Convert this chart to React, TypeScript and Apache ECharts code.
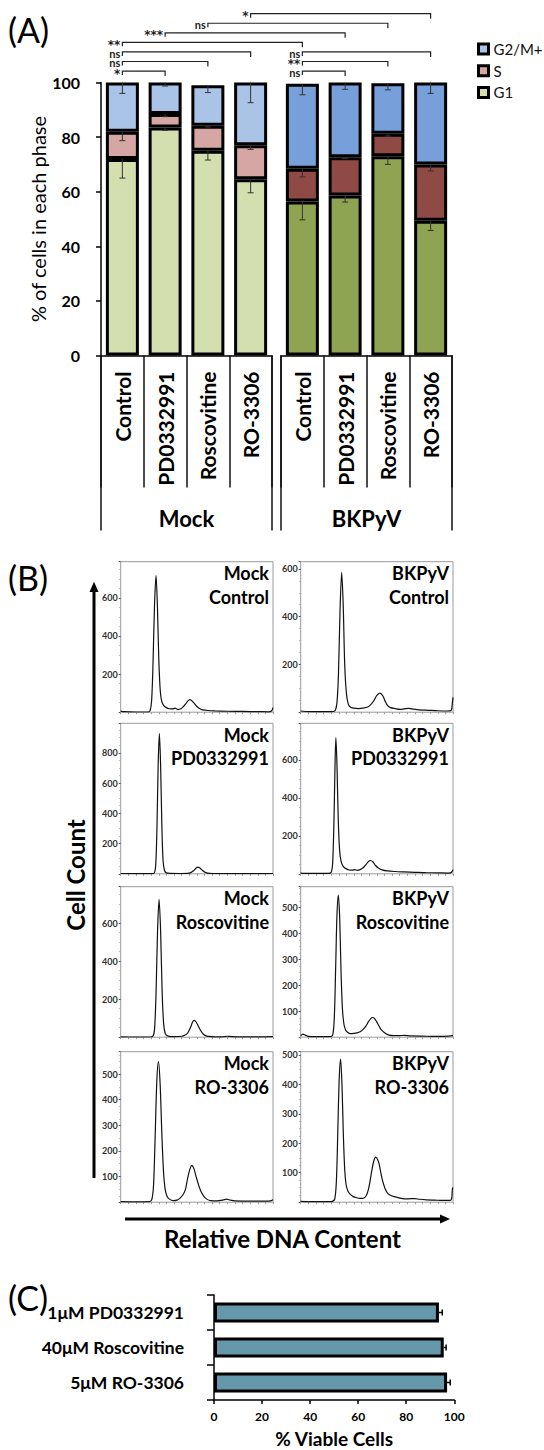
import React, { useEffect, useRef } from 'react';
import * as echarts from 'echarts';

const FONT = 'Lato, "Open Sans", "DejaVu Sans", sans-serif';

// ---------- Panel A data ----------
const treatments = ['Control', 'PD0332991', 'Roscovitine', 'RO-3306'];
const groups = ['Mock', 'BKPyV'];
const phaseNames = ['G1', 'S', 'G2/M+'];
const mockG1 = [72.0, 83.5, 75.0, 64.6];
const mockS = [10.0, 5.0, 9.2, 12.4];
const mockG2 = [18.0, 11.5, 14.8, 23.0];
const bkG1 = [56.4, 58.6, 73.0, 49.4];
const bkS = [12.0, 14.0, 8.2, 20.6];
const bkG2 = [31.1, 27.4, 18.5, 30.0];
const mockG1Err = [7.0, 1.0, 3.4, 5.0];
const mockSErr = [3.3, 1.0, 0.5, 1.5];
const mockG2Err = [4.0, 1.3, 2.7, 7.4];
const bkG1Err = [6.7, 2.4, 3.0, 3.6];
const bkSErr = [3.0, 0.5, 0.8, 2.4];
const bkG2Err = [4.0, 2.5, 2.4, 4.0];
const mockColors = ['#d3dfae', '#d6a6a5', '#aac4e8'];
const bkColors = ['#8fa452', '#8f4a46', '#77a0db'];

// significance brackets: [groupIndex, treatmentIndex]
const sigStart = [[0, 0], [1, 0], [0, 0], [1, 0], [0, 0], [1, 0], [0, 0], [0, 1], [0, 2], [0, 3]];
const sigEnd = [[0, 1], [1, 1], [0, 2], [1, 2], [0, 3], [1, 3], [1, 0], [1, 1], [1, 2], [1, 3]];
const sigLabel = ['*', 'ns', 'ns', '**', 'ns', 'ns', '**', '***', 'ns', '*'];
const sigLevel = [104.2, 104.2, 107.7, 107.7, 111.2, 111.2, 114.7, 118.2, 121.7, 125.2];

// ---------- Panel B data (x: relative DNA content 0-100, y: cell count) ----------
const histMockControl = [[0, 6], [2, 3], [10, 1], [18, 1], [19.3, 8], [20.3, 60], [21.2, 250], [22.2, 560], [23.2, 718], [24.1, 560], [25, 280], [26, 110], [27, 55], [28.3, 35], [30, 24], [32, 18], [34, 17], [35.7, 21], [37.5, 14], [39.5, 18], [41, 28], [42.5, 42], [44, 58], [45.5, 66], [47, 58], [48.5, 44], [50, 30], [52, 18], [54, 12], [57, 9], [62, 7], [70, 5], [80, 4], [90, 3], [97, 2], [99, 6], [100, 24]];
const histBkControl = [[0, 5], [3, 3], [10, 2], [20, 2], [22.5, 6], [23.8, 40], [24.8, 160], [25.8, 420], [26.9, 585], [27.9, 450], [28.9, 200], [30, 80], [31.2, 35], [32.5, 22], [35, 17], [38, 15], [41, 17], [44, 22], [46, 32], [48, 48], [50, 70], [52, 80], [54, 68], [55.5, 45], [57, 28], [59, 19], [62, 15], [65, 12], [68, 14], [71, 16], [74, 13], [78, 10], [84, 8], [90, 6], [96, 5], [98.8, 8], [99.6, 40], [100, 62]];
const histMockPD = [[0, 2], [10, 1], [20, 1], [22, 5], [23, 60], [23.8, 300], [24.6, 720], [25.4, 928], [26.2, 720], [27, 330], [27.8, 90], [28.8, 20], [30, 6], [33, 3], [38, 2], [44, 3], [46, 8], [48, 22], [49.5, 38], [50.7, 44], [52, 38], [53.5, 24], [55, 12], [57, 5], [60, 2], [70, 1], [80, 1], [90, 1], [100, 2]];
const histBkPD = [[0, 4], [3, 2], [10, 2], [18, 2], [20, 8], [21, 60], [21.9, 300], [22.5, 560], [23.1, 717], [23.8, 580], [24.6, 300], [25.5, 130], [26.5, 65], [28, 38], [30, 26], [32, 20], [34, 19], [35.5, 22], [37, 18], [39, 22], [41, 32], [43, 50], [44.5, 65], [45.9, 70], [47.5, 62], [49, 45], [51, 30], [53.3, 21], [57, 15], [62, 12], [68, 10], [75, 8], [82, 6], [90, 5], [97, 4], [99, 8], [100, 22]];
const histMockRosco = [[0, 2], [10, 1], [19, 1], [21, 4], [22.2, 40], [23.2, 230], [24.2, 560], [25.2, 726], [26.2, 560], [27.2, 240], [28.2, 70], [29.3, 18], [31, 6], [35, 3], [40, 5], [42, 10], [44, 22], [46, 55], [47.2, 80], [48.2, 89], [49.5, 80], [51, 58], [52.5, 35], [54, 18], [56, 7], [60, 3], [66, 2], [70, 5], [73, 3], [80, 2], [90, 2], [100, 3]];
const histBkRosco = [[0, 6], [1.5, 12], [3, 8], [5, 3], [10, 2], [19, 2], [21, 8], [22.1, 80], [23, 280], [23.8, 470], [24.7, 549], [25.6, 460], [26.5, 250], [27.4, 110], [28.4, 50], [29.5, 28], [31, 18], [32.5, 14], [35, 15], [37, 17], [39, 21], [41, 30], [43, 45], [44.5, 60], [46, 72], [47.2, 76], [48.5, 72], [50, 58], [51.5, 42], [53, 28], [55.5, 15], [58, 8], [61, 6], [65, 6], [68, 7], [72, 5], [80, 4], [90, 3], [97, 4], [100, 6]];
const histMockRO = [[0, 2], [10, 1], [19, 2], [20.5, 12], [21.6, 70], [22.6, 250], [23.7, 470], [24.8, 548], [25.9, 460], [27, 270], [28.1, 120], [29.2, 50], [30.5, 22], [32, 12], [34.5, 6], [37, 8], [39, 16], [41, 30], [42.5, 50], [44, 95], [45.5, 130], [46.7, 144], [48, 132], [49.5, 100], [51, 70], [52.5, 45], [54.5, 24], [56.5, 12], [59, 6], [63, 5], [67, 8], [69.7, 12], [72, 8], [75, 5], [85, 4], [95, 4], [99, 6], [100, 10]];
const histBkRO = [[0, 3], [10, 2], [20, 2], [22.3, 10], [23.5, 80], [24.4, 250], [25.3, 420], [26.2, 486], [27.1, 400], [28, 230], [28.9, 110], [29.8, 60], [31, 38], [32.3, 28], [34.5, 19], [36.7, 15], [39, 13], [41, 13], [43, 22], [44.3, 40], [45.5, 70], [46.5, 102], [48, 140], [49.3, 153], [50.5, 145], [51.5, 130], [52.6, 100], [53.7, 74], [55.5, 45], [57.4, 28], [60, 21], [63, 17], [66, 13], [69.4, 11], [72, 12], [75, 12], [78, 10], [82.5, 8], [88, 7], [93.4, 6], [98.3, 6], [99.2, 15], [99.6, 45], [100, 50]];
const histData = [histMockControl, histBkControl, histMockPD, histBkPD, histMockRosco, histBkRosco, histMockRO, histBkRO];
const histYMax = [790, 630, 995, 793, 792, 581, 587, 511];
const histYInterval = [200, 200, 200, 200, 200, 100, 100, 100];

// ---------- Panel C data ----------
const viabilityCats = ['1μM PD0332991', '40μM Roscovitine', '5μM RO-3306'];
const viability = [93.6, 95.6, 97.0];
const viabilityErr = [1.4, 1.0, 1.3];

// ---------- layout ----------
const A_TOP = 82.5;
const A_H = 273;
const A_LEFT = [101, 281];
const A_W = 171;
const H_LEFT = [120.7, 300.7];
const H_W = 152.3;
const H_TOP = [561.7, 723.3, 886.7, 1051.7];
const H_H = 150.5;

function buildOption(): any {
  const grids: any[] = [];
  const xAxes: any[] = [];
  const yAxes: any[] = [];
  const series: any[] = [];

  // Panel A grids
  for (let g = 0; g < 2; g++) {
    grids.push({ left: A_LEFT[g], top: A_TOP, width: A_W, height: A_H, containLabel: false, outerBoundsMode: 'none' });
  }
  for (let g = 0; g < 2; g++) {
    xAxes.push({
      gridIndex: g, type: 'category', data: treatments, position: 'bottom',
      axisLine: { show: true, lineStyle: { color: '#000', width: 1.5 } },
      axisTick: { show: true, length: 132, lineStyle: { color: '#111', width: 1.5 } },
      axisLabel: { rotate: 90, margin: 16, fontSize: 21, fontWeight: 'bold', fontFamily: FONT, color: '#000' },
    });
  }
  for (let g = 0; g < 2; g++) {
    xAxes.push({
      gridIndex: g, type: 'category', data: [groups[g]], position: 'bottom',
      axisLine: { show: false },
      axisTick: { show: true, length: 175, lineStyle: { color: '#111', width: 1.5 } },
      axisLabel: { margin: 152, fontSize: 22, fontWeight: 'bold', fontFamily: FONT, color: '#000' },
    });
  }
  yAxes.push({
    gridIndex: 0, type: 'value', min: 0, max: 100, interval: 20,
    name: '% of cells in each phase', nameLocation: 'middle', nameGap: 53,
    nameTextStyle: { fontSize: 20, fontFamily: FONT, color: '#000' },
    axisLine: { show: true, lineStyle: { color: '#000', width: 1.5 } },
    axisTick: { show: true, length: 5, lineStyle: { color: '#000', width: 1.5 } },
    axisLabel: { margin: 21, fontSize: 16, fontWeight: 'bold', fontFamily: FONT, color: '#000' },
    splitLine: { show: false },
  });
  yAxes.push({ gridIndex: 1, type: 'value', min: 0, max: 100, interval: 20, show: false, splitLine: { show: false } });

  const segs = [[mockG1, mockS, mockG2], [bkG1, bkS, bkG2]];
  const errs = [[mockG1Err, mockSErr, mockG2Err], [bkG1Err, bkSErr, bkG2Err]];
  const cols = [mockColors, bkColors];
  for (let g = 0; g < 2; g++) {
    for (let k = 0; k < 3; k++) {
      series.push({
        type: 'bar', name: phaseNames[k], xAxisIndex: g, yAxisIndex: g, stack: 'grp' + g,
        data: segs[g][k], barWidth: 33,
        itemStyle: { color: cols[g][k], borderColor: '#000', borderWidth: 3 },
      });
    }
    const errData: number[][] = [];
    for (let i = 0; i < 4; i++) {
      let cum = 0;
      for (let k = 0; k < 3; k++) {
        cum += segs[g][k][i];
        errData.push([i, cum, cum - errs[g][k][i]]);
      }
    }
    series.push({
      type: 'custom', name: 'errA' + g, xAxisIndex: g, yAxisIndex: g, z: 5,
      data: errData, encode: { x: 0, y: [1, 2] },
      renderItem: (params: any, api: any) => {
        const p1 = api.coord([api.value(0), api.value(1)]);
        const p2 = api.coord([api.value(0), api.value(2)]);
        const st = { stroke: '#333', lineWidth: 1 };
        return {
          type: 'group', children: [
            { type: 'line', shape: { x1: p1[0], y1: p1[1], x2: p2[0], y2: p2[1] }, style: st },
            { type: 'line', shape: { x1: p2[0] - 3, y1: p2[1], x2: p2[0] + 3, y2: p2[1] }, style: st },
          ],
        };
      },
    });
  }

  // Panel B grids
  for (let i = 0; i < 8; i++) {
    const row = Math.floor(i / 2);
    const col = i % 2;
    grids.push({
      left: H_LEFT[col], top: H_TOP[row], width: H_W, height: H_H,
      show: true, borderColor: '#9a9a9a', borderWidth: 1, backgroundColor: 'transparent',
      containLabel: false, outerBoundsMode: 'none',
    });
    xAxes.push({
      gridIndex: 2 + i, type: 'value', min: 0, max: 100, interval: 5,
      axisLine: { show: false },
      axisTick: { show: true, length: 2, lineStyle: { color: '#999' } },
      axisLabel: { show: false }, splitLine: { show: false },
    });
    yAxes.push({
      gridIndex: 2 + i, type: 'value', min: 0, max: histYMax[i], interval: histYInterval[i],
      axisLine: { show: false },
      axisTick: { show: true, length: 2, lineStyle: { color: '#555' } },
      minorTick: { show: true, splitNumber: 4, length: 1.5, lineStyle: { color: '#aaa' } },
      axisLabel: { showMinLabel: false, showMaxLabel: false, margin: 3, fontSize: 9, fontWeight: 'bold', fontFamily: FONT, color: '#333' },
      splitLine: { show: false },
    });
    series.push({
      type: 'line', name: 'hist' + i, xAxisIndex: 4 + i, yAxisIndex: 2 + i,
      data: histData[i], showSymbol: false, symbol: 'none', smooth: 0.3,
      lineStyle: { color: '#111', width: 1.2 },
    });
  }

  // Panel C
  grids.push({ left: 214, top: 1295, width: 240.3, height: 105, containLabel: false, outerBoundsMode: 'none' });
  xAxes.push({
    gridIndex: 10, type: 'value', min: 0, max: 100, interval: 20,
    name: '% Viable Cells', nameLocation: 'middle', nameGap: 29,
    nameTextStyle: { fontSize: 19, fontWeight: 'bold', fontFamily: FONT, color: '#000' },
    axisLine: { show: true, lineStyle: { color: '#000', width: 1.5 } },
    axisTick: { show: true, length: 4, lineStyle: { color: '#000', width: 1.5 } },
    axisLabel: { margin: 10, fontSize: 12, fontWeight: 'bold', fontFamily: FONT, color: '#000' },
    splitLine: { show: false },
  });
  yAxes.push({
    gridIndex: 10, type: 'category', data: viabilityCats, inverse: true,
    axisLine: { show: true, lineStyle: { color: '#000', width: 1.5 } },
    axisTick: { show: true, length: 7, lineStyle: { color: '#000', width: 1.5 } },
    axisLabel: { margin: 30, fontSize: 17.5, fontWeight: 'bold', fontFamily: FONT, color: '#000' },
  });
  series.push({
    type: 'bar', name: 'viability', xAxisIndex: 12, yAxisIndex: 10,
    data: viability, barWidth: 20,
    itemStyle: { color: '#6598ab', borderColor: '#000', borderWidth: 3 },
  });
  series.push({
    type: 'custom', name: 'errC', xAxisIndex: 12, yAxisIndex: 10, z: 5,
    data: viability.map((v, i) => [i, v, v + viabilityErr[i]]),
    encode: { y: 0, x: [1, 2] },
    renderItem: (params: any, api: any) => {
      const p1 = api.coord([api.value(1), api.value(0)]);
      const p2 = api.coord([api.value(2), api.value(0)]);
      const st = { stroke: '#000', lineWidth: 1.5 };
      return {
        type: 'group', children: [
          { type: 'line', shape: { x1: p1[0], y1: p1[1], x2: p2[0], y2: p2[1] }, style: st },
          { type: 'line', shape: { x1: p2[0], y1: p2[1] - 3, x2: p2[0], y2: p2[1] + 3 }, style: st },
        ],
      };
    },
  });

  return {
    animation: false,
    backgroundColor: '#ffffff',
    textStyle: { fontFamily: FONT },
    legend: {
      data: ['G2/M+', 'S', 'G1'], orient: 'vertical', left: 472, top: 35, padding: 5,
      itemWidth: 10, itemHeight: 10, itemGap: 3.7, icon: 'rect', selectedMode: false,
      itemStyle: { borderColor: '#000', borderWidth: 3 },
      textStyle: { fontSize: 15, fontFamily: FONT, color: '#111', lineHeight: 18 },
    },
    grid: grids,
    xAxis: xAxes,
    yAxis: yAxes,
    series,
  };
}

function staticGraphics(): any[] {
  const els: any[] = [];
  const big = (id: string, text: string, x: number, y: number) => ({
    type: 'text', id, style: { text, x, y, fill: '#000', font: `34px ${FONT}`, textAlign: 'left', textVerticalAlign: 'middle' },
  });
  els.push(big('labA', '(A)', 8, 29.5));
  els.push(big('labB', '(B)', 8, 577));
  els.push(big('labC', '(C)', 8, 1297));
  // histogram panel labels
  for (let i = 0; i < 8; i++) {
    const row = Math.floor(i / 2);
    const col = i % 2;
    els.push({
      type: 'text', id: 'hl' + i,
      style: {
        text: groups[col] + '\n' + treatments[row],
        x: H_LEFT[col] + H_W - 4, y: H_TOP[row],
        fill: '#000', font: `bold 18px ${FONT}`, textAlign: 'right', textVerticalAlign: 'top', lineHeight: 23.4,
      },
    });
  }
  // Cell Count arrow
  els.push({ type: 'line', id: 'vArrow', shape: { x1: 94, y1: 1178, x2: 94, y2: 590 }, style: { stroke: '#000', lineWidth: 3 } });
  els.push({ type: 'polygon', id: 'vHead', shape: { points: [[94, 581.7], [89.5, 592], [98.5, 592]] }, style: { fill: '#000' } });
  els.push({
    type: 'text', id: 'cellCount', x: 75.5, y: 875, rotation: Math.PI / 2,
    style: { text: 'Cell Count', x: 0, y: 0, fill: '#000', font: `bold 24px ${FONT}`, textAlign: 'center', textVerticalAlign: 'middle' },
  });
  // Relative DNA content arrow
  els.push({ type: 'line', id: 'hArrow', shape: { x1: 125, y1: 1219, x2: 442, y2: 1219 }, style: { stroke: '#000', lineWidth: 3 } });
  els.push({ type: 'polygon', id: 'hHead', shape: { points: [[450, 1219], [440, 1214.5], [440, 1223.5]] }, style: { fill: '#000' } });
  els.push({
    type: 'text', id: 'dnaText',
    style: { text: 'Relative DNA Content', x: 282.5, y: 1238, fill: '#000', font: `bold 24px ${FONT}`, textAlign: 'center', textVerticalAlign: 'middle' },
  });
  return els;
}

function bracketGraphics(chart: any): any[] {
  const els: any[] = [];
  for (let i = 0; i < sigLabel.length; i++) {
    const s = sigStart[i];
    const e = sigEnd[i];
    const p1 = chart.convertToPixel({ gridIndex: s[0] }, [s[1], sigLevel[i]]);
    const p2 = chart.convertToPixel({ gridIndex: e[0] }, [e[1], sigLevel[i]]);
    if (!p1 || !p2) continue;
    const y = p1[1];
    els.push({
      type: 'polyline', id: 'br' + i,
      shape: { points: [[p1[0], y + 4], [p1[0], y], [p2[0], y], [p2[0], y + 5]] },
      style: { stroke: '#222', lineWidth: 1.2, fill: 'none' },
    });
    const isStar = sigLabel[i].indexOf('*') >= 0;
    els.push({
      type: 'text', id: 'brl' + i,
      style: {
        text: sigLabel[i], x: p1[0] - 2, y: y + (isStar ? 2.5 : 1.5), fill: '#222',
        font: isStar ? 'bold 12px "DejaVu Sans", sans-serif' : `bold 11px ${FONT}`, lineHeight: 8,
        textAlign: 'right', textVerticalAlign: 'middle',
      },
    });
  }
  return els;
}

export default function App() {
  const ref = useRef<HTMLDivElement>(null);
  useEffect(() => {
    if (!ref.current) return;
    const chart = echarts.init(ref.current, null, { renderer: 'svg' });
    chart.setOption(buildOption());
    const brackets = bracketGraphics(chart);
    chart.setOption({ graphic: [...staticGraphics(), ...brackets] });
    return () => {
      chart.dispose();
    };
  }, []);
  return <div ref={ref} style={{ position: 'absolute', left: 0, top: 0, width: 544, height: 1450 }} />;
}
